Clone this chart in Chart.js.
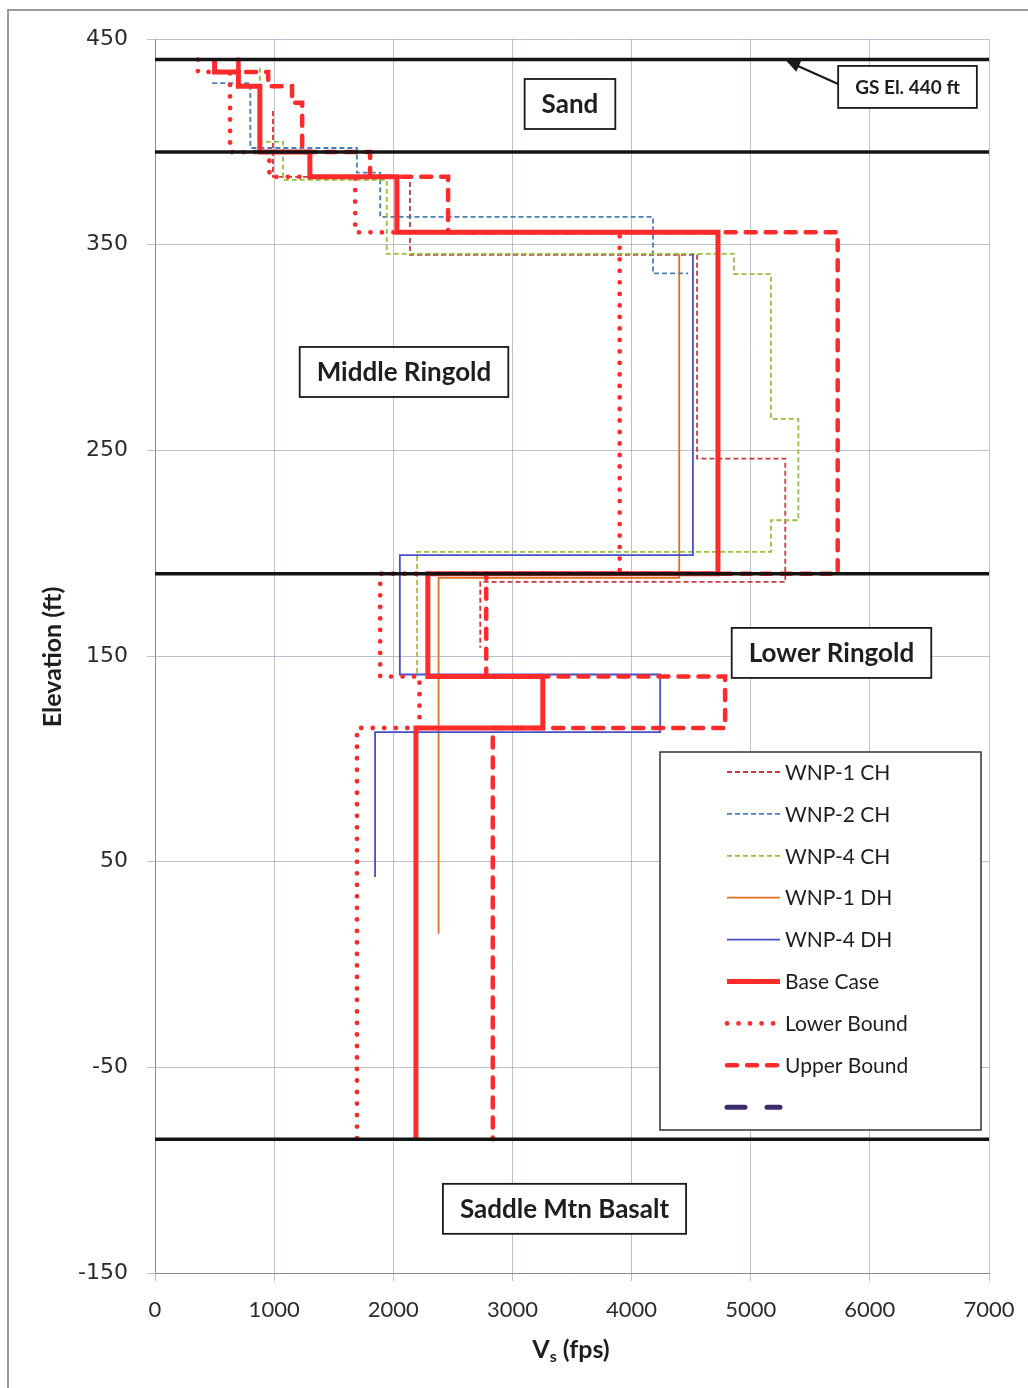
<!DOCTYPE html>
<html>
<head>
<meta charset="utf-8">
<title>Vs profiles</title>
<script src="https://cdn.jsdelivr.net/npm/chart.js@4.4.1/dist/chart.umd.min.js"></script>
<style>
  html, body { margin: 0; padding: 0; background: #ffffff; }
  #wrap { width: 1028px; height: 1388px; position: relative; }
  canvas { display: block; }
</style>
</head>
<body>
<div id="wrap"><canvas id="vsChart" width="1028" height="1388"></canvas></div>
<script>
// ---- Axis ticks ----
const xTicks = [0, 1000, 2000, 3000, 4000, 5000, 6000, 7000];
const yTicks = [-150, -50, 50, 150, 250, 350, 450];

// ---- Measured profiles: layer boundary elevations (ft) and layer Vs (fps) ----
const wnp1chElev = [415, 383, 345, 246, 186, 154];
const wnp1chVs   = [990, 2140, 4550, 5290, 2730];

const wnp2chElev = [428.5, 428.5, 397, 385, 363.5, 336, 336];
const wnp2chVs   = [480, 800, 1695, 1890, 4180, 4475];

const wnp4chElev = [436, 400, 381.5, 345.5, 335.7, 265.3, 216, 200.6, 141.5];
const wnp4chVs   = [880, 1075, 1945, 4860, 5170, 5400, 5170, 2200];

const wnp1dhElev = [345.5, 188, 15];
const wnp1dhVs   = [4400, 2380];

const wnp4dhElev = [345.5, 199, 141, 113, 42.5];
const wnp4dhVs   = [4515, 2055, 4240, 1847];

// ---- Design profiles ----
const baseElev  = [440, 434, 427, 395, 383, 356, 190, 140, 115, -85];
const baseVs    = [500, 700, 880, 1300, 2030, 4725, 2290, 3255, 2190];

const lowerElev = [440, 434, 395, 383, 356, 190, 140, 115, -85];
const lowerVs   = [360, 630, 960, 1680, 3900, 1890, 2220, 1695];

const upperElev = [440, 434, 427, 419, 395, 383, 356, 190, 140, 115, -85];
const upperVs   = [700, 950, 1150, 1235, 1805, 2460, 5730, 2780, 4785, 2835];

// ---- Geologic unit boundaries (ft) ----
const unitBoundaryElev = [440, 395, 190, -85];

// ---- Unit labels ----
const unitLabels = ['Sand', 'Middle Ringold', 'Lower Ringold', 'Saddle Mtn Basalt'];
const unitLabelVs = [3483, 2090, 5678, 3437];
const unitLabelElev = [418.4, 288.1, 151.5, -118.8];
const groundSurfaceText = 'GS El. 440 ft';

// Turn layer tables into step-shaped polylines (Vs on x, elevation on y)
function stepProfile(elev, vs) {
  const pts = [];
  for (let i = 0; i < vs.length; i++) {
    pts.push({ x: vs[i], y: elev[i] });
    pts.push({ x: vs[i], y: elev[i + 1] });
  }
  return pts;
}

function profileSet(label, elev, vs, style) {
  return Object.assign({
    label: label,
    data: stepProfile(elev, vs),
    showLine: true,
    fill: false,
    pointRadius: 0,
    pointHoverRadius: 0,
    borderJoinStyle: 'miter',
    inLegend: true
  }, style);
}

const RED = '#ff2b2b';

const datasets = [
  profileSet('WNP-1 CH', wnp1chElev, wnp1chVs, { borderColor: '#c8393f', borderWidth: 1.8, borderDash: [5, 3], order: 12 }),
  profileSet('WNP-2 CH', wnp2chElev, wnp2chVs, { borderColor: '#4a7ebb', borderWidth: 1.8, borderDash: [5, 3], order: 11 }),
  profileSet('WNP-4 CH', wnp4chElev, wnp4chVs, { borderColor: '#98bf3e', borderWidth: 1.8, borderDash: [5, 3], order: 10 }),
  profileSet('WNP-1 DH', wnp1dhElev, wnp1dhVs, { borderColor: '#e2701f', borderWidth: 1.8, borderDash: [], order: 9 }),
  profileSet('WNP-4 DH', wnp4dhElev, wnp4dhVs, { borderColor: '#4650c8', borderWidth: 1.8, borderDash: [], order: 8 }),
  profileSet('Base Case', baseElev, baseVs, { borderColor: RED, borderWidth: 5, borderDash: [], borderCapStyle: 'butt', order: 7 }),
  profileSet('Lower Bound', lowerElev, lowerVs, { borderColor: RED, borderWidth: 4.8, borderDash: [0.01, 11.5], borderCapStyle: 'round', order: 6 }),
  profileSet('Upper Bound', upperElev, upperVs, { borderColor: RED, borderWidth: 4.5, borderDash: [10, 10], borderCapStyle: 'round', order: 5 }),
  { label: '', data: [], showLine: true, pointRadius: 0, borderColor: '#3d2b6b', borderWidth: 5, borderDash: [18, 22], borderCapStyle: 'round', order: 4, inLegend: true }
];

unitBoundaryElev.forEach(function (e) {
  datasets.push({
    label: 'boundary ' + e,
    data: [{ x: xTicks[0], y: e }, { x: xTicks[xTicks.length - 1], y: e }],
    showLine: true,
    pointRadius: 0,
    pointHoverRadius: 0,
    borderColor: '#141414',
    borderWidth: 3.5,
    order: 1,
    inLegend: false
  });
});

const TEXT = '#1e1e1e';

// Frame, unit labels, legend and axis titles
const decorPlugin = {
  id: 'decor',
  beforeDraw(chart) {
    const ctx = chart.ctx;
    ctx.save();
    ctx.fillStyle = '#ffffff';
    ctx.fillRect(0, 0, chart.width, chart.height);
    ctx.strokeStyle = '#9a9a9a';
    ctx.lineWidth = 2;
    ctx.beginPath();
    ctx.moveTo(8, chart.height);
    ctx.lineTo(8, 10);
    ctx.lineTo(chart.width, 10);
    ctx.stroke();
    ctx.restore();
  },
  afterDraw(chart) {
    const ctx = chart.ctx;
    const xs = chart.scales.x, ys = chart.scales.y;
    ctx.save();

    // unit labels in framed boxes
    ctx.font = 'bold 26px Lato';
    ctx.textAlign = 'center';
    ctx.textBaseline = 'middle';
    unitLabels.forEach(function (t, i) {
      const cx = xs.getPixelForValue(unitLabelVs[i]);
      const cy = ys.getPixelForValue(unitLabelElev[i]);
      const w = ctx.measureText(t).width + 34;
      const h = 50;
      ctx.fillStyle = '#ffffff';
      ctx.fillRect(cx - w / 2, cy - h / 2, w, h);
      ctx.strokeStyle = '#1a1a1a';
      ctx.lineWidth = 1.8;
      ctx.strokeRect(cx - w / 2, cy - h / 2, w, h);
      ctx.fillStyle = TEXT;
      ctx.fillText(t, cx, cy + 1);
    });

    // ground surface callout with arrow to the 440 ft line
    ctx.font = 'bold 19px Lato';
    const gx = xs.getPixelForValue(6316), gy = ys.getPixelForValue(426.7);
    const gw = ctx.measureText(groundSurfaceText).width + 34, gh = 42;
    ctx.fillStyle = '#ffffff';
    ctx.fillRect(gx - gw / 2, gy - gh / 2, gw, gh);
    ctx.strokeStyle = '#1a1a1a';
    ctx.lineWidth = 1.8;
    ctx.strokeRect(gx - gw / 2, gy - gh / 2, gw, gh);
    ctx.fillStyle = TEXT;
    ctx.fillText(groundSurfaceText, gx, gy + 1);

    const tipX = xs.getPixelForValue(5296), tipY = ys.getPixelForValue(unitBoundaryElev[0]) + 1;
    const sx = gx - gw / 2, sy = gy - 3;
    const ang = Math.atan2(tipY - sy, tipX - sx);
    ctx.strokeStyle = '#1a1a1a';
    ctx.lineWidth = 2.2;
    ctx.beginPath();
    ctx.moveTo(sx, sy);
    ctx.lineTo(tipX - 10 * Math.cos(ang), tipY - 10 * Math.sin(ang));
    ctx.stroke();
    ctx.fillStyle = '#1a1a1a';
    ctx.beginPath();
    ctx.moveTo(tipX, tipY);
    ctx.lineTo(tipX - 14 * Math.cos(ang) + 6 * Math.sin(ang), tipY - 14 * Math.sin(ang) - 6 * Math.cos(ang));
    ctx.lineTo(tipX - 14 * Math.cos(ang) - 6 * Math.sin(ang), tipY - 14 * Math.sin(ang) + 6 * Math.cos(ang));
    ctx.closePath();
    ctx.fill();

    // legend
    const lx = 660, ly = 752, lw = 321, lh = 378;
    ctx.fillStyle = '#ffffff';
    ctx.fillRect(lx, ly, lw, lh);
    ctx.strokeStyle = '#333333';
    ctx.lineWidth = 1.5;
    ctx.strokeRect(lx, ly, lw, lh);
    const items = chart.data.datasets.filter(function (d) { return d.inLegend; });
    ctx.font = '21px Lato';
    ctx.textAlign = 'left';
    items.forEach(function (d, i) {
      const y = 772 + i * 41.9;
      ctx.save();
      ctx.strokeStyle = d.borderColor;
      ctx.lineWidth = d.borderWidth;
      ctx.lineCap = d.borderCapStyle || 'butt';
      ctx.setLineDash(d.borderDash || []);
      ctx.beginPath();
      ctx.moveTo(727, y);
      ctx.lineTo(780, y);
      ctx.stroke();
      ctx.restore();
      ctx.fillStyle = TEXT;
      ctx.fillText(d.label, 785, y + 1);
    });

    // axis titles
    ctx.fillStyle = TEXT;
    ctx.textAlign = 'center';
    ctx.textBaseline = 'middle';
    ctx.save();
    ctx.translate(53, (ys.top + ys.bottom) / 2 + 1);
    ctx.rotate(-Math.PI / 2);
    ctx.font = 'bold 25px Lato';
    ctx.fillText('Elevation (ft)', 0, 0);
    ctx.restore();

    const big = 'bold 25px Lato', small = 'bold 16px Lato';
    ctx.font = big; const wV = ctx.measureText('V').width; const wRest = ctx.measureText(' (fps)').width;
    ctx.font = small; const wS = ctx.measureText('s').width;
    let tx = 571 - (wV + wS + wRest) / 2;
    const ty = 1350;
    ctx.textAlign = 'left';
    ctx.font = big; ctx.fillText('V', tx, ty); tx += wV;
    ctx.font = small; ctx.fillText('s', tx, ty + 7); tx += wS;
    ctx.font = big; ctx.fillText(' (fps)', tx, ty);

    ctx.restore();
  }
};

const gridStyle = { color: 'rgba(135,140,165,0.55)', lineWidth: 1, tickLength: 8, drawTicks: true };

new Chart(document.getElementById('vsChart'), {
  type: 'scatter',
  data: { datasets: datasets },
  options: {
    responsive: false,
    devicePixelRatio: 1,
    animation: false,
    events: [],
    layout: { padding: { top: 39, right: 39, left: 0, bottom: 0 } },
    plugins: { legend: { display: false }, tooltip: { enabled: false } },
    scales: {
      x: {
        type: 'linear',
        min: xTicks[0],
        max: xTicks[xTicks.length - 1],
        afterBuildTicks: function (s) { s.ticks = xTicks.map(function (v) { return { value: v }; }); },
        afterFit: function (s) { s.height = 115; s.paddingLeft = 0; s.paddingRight = 0; },
        grid: gridStyle,
        border: { display: true, color: '#8c8c8c', width: 1 },
        ticks: { font: { family: 'Lato', size: 22 }, color: '#2b2b2b', padding: 16, maxRotation: 0,
                 callback: function (v) { return String(v); } },
        title: { display: false }
      },
      y: {
        type: 'linear',
        min: yTicks[0],
        max: yTicks[yTicks.length - 1],
        afterBuildTicks: function (s) { s.ticks = yTicks.map(function (v) { return { value: v }; }); },
        afterFit: function (s) { s.width = 155; s.paddingTop = 0; s.paddingBottom = 0; },
        grid: gridStyle,
        border: { display: true, color: '#8c8c8c', width: 1 },
        ticks: { font: { family: 'DejaVu Sans', size: 22 }, color: '#2b2b2b', padding: 19,
                 callback: function (v) { return String(v); } },
        title: { display: false }
      }
    }
  },
  plugins: [decorPlugin]
});
</script>
</body>
</html>
